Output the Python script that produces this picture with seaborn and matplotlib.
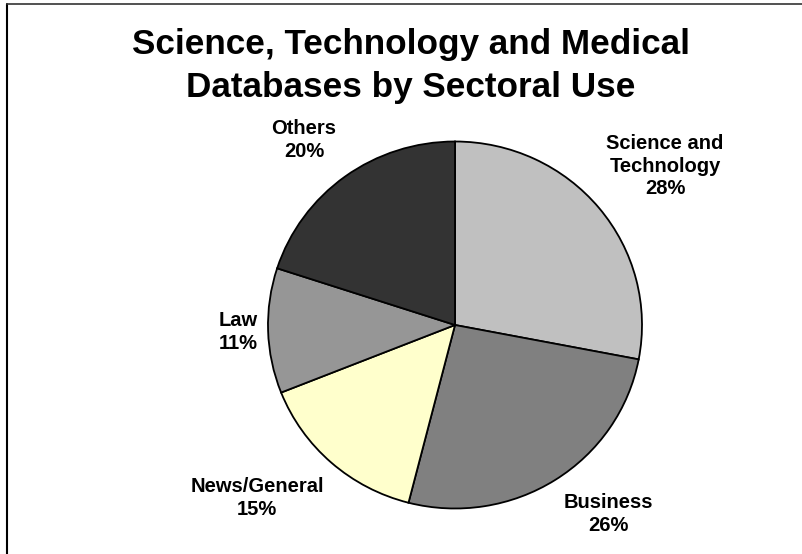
import matplotlib
matplotlib.use("Agg")
import matplotlib.pyplot as plt
from matplotlib.lines import Line2D
import numpy as np
import seaborn as sns

# Sector shares of STM databases (percent)
categories = ["Science and\nTechnology", "Business", "News/General", "Law", "Others"]
shares = [28, 26, 15, 11, 20]
slice_colors = ["#C0C0C0", "#808080", "#FFFFCC", "#969696", "#333333"]
title = "Science, Technology and Medical\nDatabases by Sectoral Use"

sns.set_theme(style="white")
plt.rcParams["font.family"] = ["Liberation Sans", "DejaVu Sans"]

W, H = 802, 554
fig = plt.figure(figsize=(W / 100, H / 100), dpi=100)
fig.patch.set_facecolor("white")

# pie axes placed in pixel units (center 455,325; slightly wider than tall)
cx, cy, rx, ry = 455, 325, 187, 183.5
ax = fig.add_axes([(cx - rx) / W, (H - cy - ry) / H, 2 * rx / W, 2 * ry / H])

wedges, _ = ax.pie(
    shares,
    colors=slice_colors,
    startangle=90,
    counterclock=False,
    wedgeprops=dict(edgecolor="black", linewidth=1.3),
)
ax.set_aspect("auto")
ax.set_xlim(-1, 1)
ax.set_ylim(-1, 1)
ax.axis("off")

# label placement: radial distance and angular nudge per slice
label_dist = [1.418, 1.315, 1.418, 1.161, 1.291]
label_nudge = [-2.0, 6.1, -6.9, 0.1, 2.7]
for w, cat, val, d, nud in zip(wedges, categories, shares, label_dist, label_nudge):
    ang = np.deg2rad((w.theta1 + w.theta2) / 2 + nud)
    ax.text(d * np.cos(ang), d * np.sin(ang), f"{cat}\n{val}%",
            ha="center", va="center", fontsize=14.5, fontweight="bold",
            color="black", linespacing=1.25, clip_on=False)

fig.text(410.5 / W, 1 - 66 / H, title, ha="center", va="center",
         fontsize=25.3, fontweight="bold", color="black", linespacing=1.37)

# chart-area frame (left and top edges visible)
fig.add_artist(Line2D([7 / W, 7 / W], [0, 1 - 4 / H], transform=fig.transFigure,
                      color="black", linewidth=1.5))
fig.add_artist(Line2D([7 / W, 1], [1 - 4 / H, 1 - 4 / H], transform=fig.transFigure,
                      color="#333333", linewidth=1.2))

fig.savefig("out.png", dpi=100, facecolor="white")
